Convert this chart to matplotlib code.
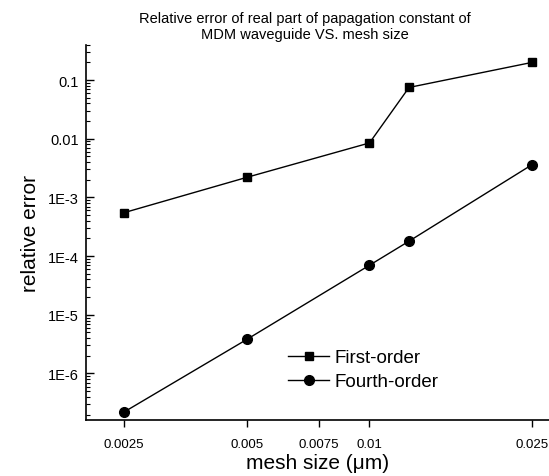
import matplotlib
matplotlib.use("Agg")
import matplotlib.pyplot as plt
from matplotlib.ticker import FixedLocator, FixedFormatter, LogLocator, NullFormatter

# Mesh sizes (um) and relative errors of the propagation constant
mesh_size = [0.0025, 0.005, 0.01, 0.0125, 0.025]
first_order = [5.5e-4, 2.2e-3, 8.5e-3, 7.5e-2, 0.2]
fourth_order = [2.2e-7, 3.8e-6, 7.0e-5, 1.8e-4, 3.6e-3]

x_ticks = [0.0025, 0.005, 0.0075, 0.01, 0.025]
x_tick_labels = ["0.0025", "0.005", "0.0075", "0.01", "0.025"]
y_ticks = [1e-6, 1e-5, 1e-4, 1e-3, 1e-2, 1e-1]
y_tick_labels = ["1E-6", "1E-5", "1E-4", "1E-3", "0.01", "0.1"]

plt.rcParams["font.family"] = ["Liberation Sans", "DejaVu Sans"]

fig = plt.figure(figsize=(5.49, 4.77), dpi=100)
ax = fig.add_axes([0.157, 0.117, 0.843, 0.787])

ax.plot(mesh_size, first_order, color="black", lw=1.0, marker="s", ms=6,
        label="First-order")
ax.plot(mesh_size, fourth_order, color="black", lw=1.0, marker="o", ms=7,
        label="Fourth-order")

ax.set_xscale("log")
ax.set_yscale("log")
ax.set_xlim(0.00202, 0.02755)
ax.set_ylim(1.6e-7, 0.4)

ax.xaxis.set_major_locator(FixedLocator(x_ticks))
ax.xaxis.set_major_formatter(FixedFormatter(x_tick_labels))
ax.xaxis.set_minor_locator(FixedLocator([]))
ax.yaxis.set_major_locator(FixedLocator(y_ticks))
ax.yaxis.set_major_formatter(FixedFormatter(y_tick_labels))
ax.yaxis.set_minor_locator(LogLocator(base=10, subs=range(2, 10)))
ax.yaxis.set_minor_formatter(NullFormatter())

for side in ("top", "right"):
    ax.spines[side].set_visible(False)
ax.spines["left"].set_linewidth(1.2)
ax.spines["bottom"].set_linewidth(1.2)

ax.tick_params(axis="x", which="major", direction="out", length=5, width=1,
               labelsize=9.5, pad=8)
ax.tick_params(axis="y", which="major", direction="in", length=6, width=1,
               labelsize=10.5, pad=5)
ax.tick_params(axis="y", which="minor", direction="in", length=3, width=0.8)

ax.set_xlabel("mesh size (\u03bcm)", fontsize=15, labelpad=2)
ax.set_ylabel("relative error", fontsize=15, labelpad=6)

fig.text(0.555, 0.975, "Relative error of real part of papagation constant of\n"
         "MDM waveguide VS. mesh size", ha="center", va="top", fontsize=10.5,
         linespacing=1.15)

leg = ax.legend(loc="lower left", bbox_to_anchor=(0.42, 0.06), frameon=False,
                fontsize=13.5, handlelength=2.2, handletextpad=0.3,
                labelspacing=0.35, borderaxespad=0)

fig.savefig("out.png", dpi=100)
